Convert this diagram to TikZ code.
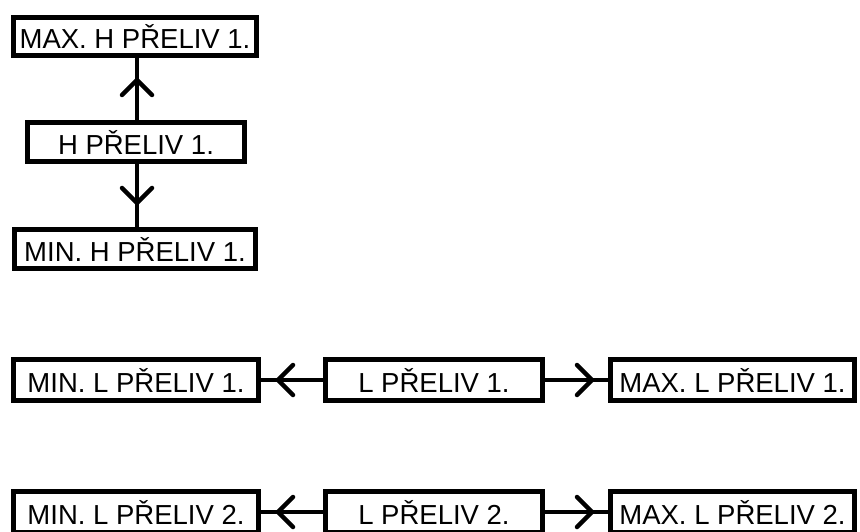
\documentclass[tikz,border=0pt]{standalone}
\usepackage{fontspec}
\setmainfont{Liberation Sans}
\usetikzlibrary{decorations.markings}
\tikzset{
  box/.style={draw=black, line width=5pt, fill=white, inner sep=0pt,
    font=\fontsize{27.5}{30}\selectfont, text=black, align=center},
  conn/.style={draw=black, line width=4.5pt},
  chev/.style={conn, postaction={decorate, decoration={markings,
    mark=at position #1 with {\draw[line width=4.5pt, line cap=round, line join=round]
      (-15,15) -- (0,0) -- (-15,-15);}}}}
}
\begin{document}
\begin{tikzpicture}[x=1pt, y=-1pt]
\useasboundingbox (0,0) rectangle (860,532);
% vertical column
\node[box, minimum width=243, minimum height=38] (maxH) at (135,36.5) {MAX. H PŘELIV 1.};
\node[box, minimum width=217, minimum height=39] (hH) at (136,142) {H PŘELIV 1.};
\node[box, minimum width=241, minimum height=39] (minH) at (135,249) {MIN. H PŘELIV 1.};
% row 2
\node[box, minimum width=245, minimum height=41] (minL1) at (136,380) {MIN. L PŘELIV 1.};
\node[box, minimum width=217, minimum height=41] (L1) at (434,380) {L PŘELIV 1.};
\node[box, minimum width=244, minimum height=41] (maxL1) at (732.5,380) {MAX. L PŘELIV 1.};
% row 3
\node[box, minimum width=245, minimum height=41] (minL2) at (136,512) {MIN. L PŘELIV 2.};
\node[box, minimum width=217, minimum height=41] (L2) at (434,512) {L PŘELIV 2.};
\node[box, minimum width=244, minimum height=41] (maxL2) at (732.5,512) {MAX. L PŘELIV 2.};
% connectors
\draw[chev=40pt] (hH.north -| 137,0) -- (maxH.south -| 137,0);
\draw[chev=39pt] (hH.south -| 137,0) -- (minH.north -| 137,0);
\draw[chev=45pt] (L1.west) -- (minL1.east);
\draw[chev=47pt] (L1.east) -- (maxL1.west);
\draw[chev=45pt] (L2.west) -- (minL2.east);
\draw[chev=47pt] (L2.east) -- (maxL2.west);
\end{tikzpicture}
\end{document}
